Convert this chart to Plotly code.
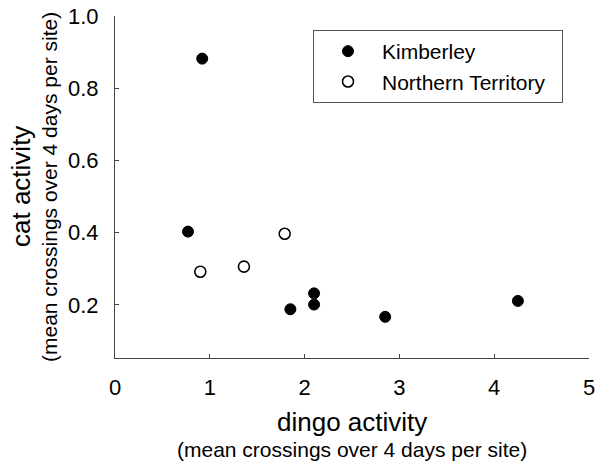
import plotly.graph_objects as go

kim_x = [0.92, 0.77, 1.85, 2.10, 2.10, 2.85, 4.25]
kim_y = [0.882, 0.403, 0.188, 0.232, 0.201, 0.167, 0.211]
nt_x = [0.90, 1.36, 1.79]
nt_y = [0.292, 0.306, 0.397]

x_ticks = [0, 1, 2, 3, 4, 5]
y_ticks = [0.2, 0.4, 0.6, 0.8, 1.0]
y_tick_labels = ["0.2", "0.4", "0.6", "0.8", "1.0"]

FONT = "Liberation Sans, Arial, sans-serif"

fig = go.Figure()
fig.add_trace(go.Scatter(
    x=kim_x, y=kim_y, mode="markers", name="Kimberley",
    marker=dict(symbol="circle", size=11, color="black", line=dict(color="black", width=1)),
))
fig.add_trace(go.Scatter(
    x=nt_x, y=nt_y, mode="markers", name="Northern Territory\u00a0\u00a0",
    marker=dict(symbol="circle-open", size=11, color="black", line=dict(color="black", width=1.6)),
))

fig.update_layout(
    width=596, height=465,
    margin=dict(l=115, r=7, t=16, b=107),
    paper_bgcolor="white", plot_bgcolor="white",
    font=dict(family=FONT, color="black"),
    showlegend=True,
    legend=dict(
        x=(313 - 115) / 474, y=(358 - 30) / 342, xanchor="left", yanchor="top",
        bordercolor="#555", borderwidth=1, bgcolor="white",
        font=dict(size=21, family=FONT), traceorder="normal",
        itemwidth=58,
    ),
    xaxis=dict(
        range=[0, 5], tickvals=x_ticks, ticks="inside", ticklen=4,
        tickcolor="#444", showline=True, linecolor="#444", linewidth=1,
        showgrid=False, zeroline=False, tickfont=dict(size=22),
        ticklabelstandoff=10, automargin=False,
    ),
    yaxis=dict(
        range=[0.053, 1.0], tickvals=y_ticks,
        ticktext=[t + "\u2002" for t in y_tick_labels],
        ticks="inside", ticklen=4,
        tickcolor="#444", showline=True, linecolor="#444", linewidth=1,
        showgrid=False, zeroline=False, tickfont=dict(size=22),
        automargin=False,
    ),
)

fig.add_annotation(text="dingo activity", xref="paper", yref="paper",
                   x=0.5, y=-64 / 342, xanchor="center", yanchor="middle",
                   showarrow=False, font=dict(size=26))
fig.add_annotation(text="(mean crossings over 4 days per site)", xref="paper", yref="paper",
                   x=0.5, y=-91 / 342, xanchor="center", yanchor="middle",
                   showarrow=False, font=dict(size=21))
fig.add_annotation(text="cat activity", xref="paper", yref="paper",
                   x=-94 / 474, y=0.5, xanchor="center", yanchor="middle", textangle=-90,
                   showarrow=False, font=dict(size=26))
fig.add_annotation(text="(mean crossings over 4 days per site)", xref="paper", yref="paper",
                   x=-66 / 474, y=0.5, xanchor="center", yanchor="middle", textangle=-90,
                   showarrow=False, font=dict(size=21))

fig.write_html("out.html", config={"displayModeBar": False},
               post_script="document.body.style.margin='0';document.body.style.padding='0';")
